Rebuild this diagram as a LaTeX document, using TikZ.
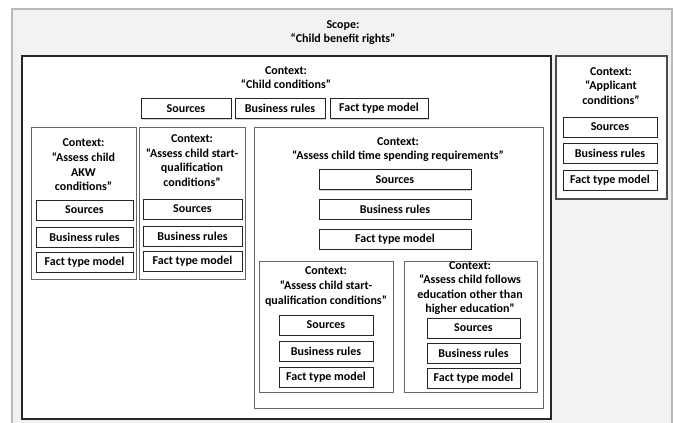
\documentclass[tikz,border=0pt]{standalone}
\usepackage{fontspec}
\setmainfont{Carlito}
\usetikzlibrary{shadows}
\begin{document}
\begin{tikzpicture}[x=1pt,y=-1pt,
  font=\fontsize{12}{14.6}\selectfont\bfseries,
  scopebox/.style={draw=gray!55, fill=gray!10, line width=1.6pt},
  mainctx/.style={draw=black!85, fill=white, line width=1.3pt, drop shadow={shadow xshift=1pt, shadow yshift=-1pt, opacity=0.35}},
  appctx/.style={draw=black!70, fill=white, line width=1.1pt, drop shadow={shadow xshift=1pt, shadow yshift=-1pt, opacity=0.3}},
  ctxbox/.style={draw=black!60, fill=white, line width=1pt, drop shadow={shadow xshift=1pt, shadow yshift=-1pt, opacity=0.3}},
  sbox/.style={draw=black!85, fill=white, line width=1pt, minimum height=20pt, inner sep=0pt, drop shadow={shadow xshift=1pt, shadow yshift=-1pt, opacity=0.35}},
  lbl/.style={align=center, inner sep=0pt}]
\useasboundingbox (0,0) rectangle (673,423);
% scope
\draw[scopebox] (12,9) rectangle (672,440);
\node[lbl] (scopetxt) at (343,32.5) {Scope:\\“Child benefit rights”};
% child conditions
\draw[mainctx] (22,56) rectangle (551,419);
\node[lbl] (cctxt) at (286,77.5) {Context:\\“Child conditions”};
\node[sbox, minimum width=90pt] (ccS) at (186,108.5) {Sources};
\node[sbox, minimum width=90pt] (ccB) at (280,108.5) {Business rules};
\node[sbox, minimum width=98pt] (ccF) at (379,108.5) {Fact type model};
% applicant
\draw[appctx] (556,56) rectangle (667,199);
\node[lbl] (aptxt) at (611,86) {Context:\\“Applicant\\conditions”};
\node[sbox, minimum width=94pt] (apS) at (610,127) {Sources};
\node[sbox, minimum width=94pt] (apB) at (610,153) {Business rules};
\node[sbox, minimum width=94pt] (apF) at (610,180) {Fact type model};
% AKW
\draw[ctxbox] (31,127) rectangle (136,279);
\node[lbl] (akwtxt) at (83.5,165) {Context:\\“Assess child\\AKW\\conditions”};
\node[sbox, minimum width=97pt] (akS) at (84.5,210) {Sources};
\node[sbox, minimum width=97pt] (akB) at (84.5,237) {Business rules};
\node[sbox, minimum width=97pt] (akF) at (84.5,262) {Fact type model};
% start qualification
\draw[ctxbox] (139,127) rectangle (245,279);
\node[lbl] (sqtxt) at (192,160.5) {Context:\\“Assess child start-\\qualification\\conditions”};
\node[sbox, minimum width=99pt] (sqS) at (192.5,209) {Sources};
\node[sbox, minimum width=99pt] (sqB) at (192.5,236) {Business rules};
\node[sbox, minimum width=99pt] (sqF) at (192.5,261) {Fact type model};
% time spending
\draw[ctxbox] (254,127) rectangle (543,408);
\node[lbl] (tstxt) at (398,149.5) {Context:\\“Assess child time spending requirements”};
\node[sbox, minimum width=152pt] (tsS) at (395,179.5) {Sources};
\node[sbox, minimum width=152pt] (tsB) at (395,209) {Business rules};
\node[sbox, minimum width=152pt] (tsF) at (395,239) {Fact type model};
% inner start qualification
\draw[ctxbox] (259,261) rectangle (393,392);
\node[lbl] (iqtxt) at (326,286.5) {Context:\\“Assess child start-\\qualification conditions”};
\node[sbox, minimum width=94pt] (iqS) at (326,325) {Sources};
\node[sbox, minimum width=94pt] (iqB) at (326,351) {Business rules};
\node[sbox, minimum width=94pt] (iqF) at (326,377) {Fact type model};
% follows education
\draw[ctxbox] (404,261) rectangle (537,392);
\node[lbl] (fetxt) at (470,288) {Context:\\“Assess child follows\\education other than\\higher education”};
\node[sbox, minimum width=93pt] (feS) at (473.5,328) {Sources};
\node[sbox, minimum width=93pt] (feB) at (473.5,353) {Business rules};
\node[sbox, minimum width=93pt] (feF) at (473.5,378) {Fact type model};
\end{tikzpicture}
\end{document}
